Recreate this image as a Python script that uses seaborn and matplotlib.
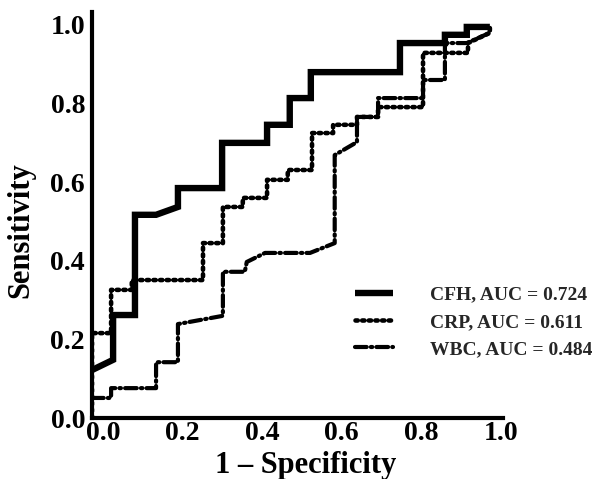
import matplotlib
matplotlib.use("Agg")
import matplotlib.pyplot as plt
import matplotlib.transforms as mtransforms
from matplotlib.lines import Line2D
import numpy as np
import pandas as pd
import seaborn as sns

# ROC curves (1 - specificity, sensitivity)
cfh_fpr = [0.0, 0.053, 0.053, 0.108, 0.108, 0.161, 0.216, 0.216, 0.327, 0.327, 0.44, 0.44,
           0.497, 0.497, 0.55, 0.55, 0.774, 0.774, 0.887, 0.887, 0.942, 0.942, 1.0]
cfh_tpr = [0.122, 0.148, 0.262, 0.262, 0.517, 0.517, 0.537, 0.585, 0.585, 0.70, 0.70, 0.746,
           0.746, 0.814, 0.814, 0.88, 0.88, 0.954, 0.954, 0.975, 0.975, 0.995, 0.995]

crp_fpr = [0.0, 0.0, 0.048, 0.048, 0.10, 0.10, 0.279, 0.279, 0.329, 0.329, 0.379, 0.379, 0.44,
           0.44, 0.492, 0.492, 0.553, 0.553, 0.606, 0.606, 0.666, 0.666, 0.719, 0.719, 0.832,
           0.832, 0.945, 0.945, 1.0, 1.0]
crp_tpr = [0.0, 0.216, 0.216, 0.326, 0.326, 0.351, 0.351, 0.445, 0.445, 0.537, 0.537, 0.560,
           0.560, 0.606, 0.606, 0.631, 0.631, 0.725, 0.725, 0.746, 0.746, 0.766, 0.766, 0.791,
           0.791, 0.929, 0.929, 0.954, 0.98, 1.0]

wbc_fpr = [0.0, 0.048, 0.048, 0.161, 0.161, 0.216, 0.216, 0.329, 0.329, 0.384, 0.389, 0.435,
           0.548, 0.61, 0.61, 0.666, 0.666, 0.719, 0.719, 0.832, 0.832, 0.887, 0.887, 0.942,
           1.0, 1.0]
wbc_tpr = [0.051, 0.051, 0.076, 0.076, 0.142, 0.142, 0.239, 0.26, 0.372, 0.372, 0.397, 0.42,
           0.42, 0.445, 0.669, 0.702, 0.766, 0.766, 0.814, 0.814, 0.86, 0.86, 0.954, 0.954,
           0.98, 1.0]

labels = ["CFH, AUC = 0.724", "CRP, AUC = 0.611", "WBC, AUC = 0.484"]
x_ticks = [0.0, 0.2, 0.4, 0.6, 0.8, 1.0]
y_ticks = [0.0, 0.2, 0.4, 0.6, 0.8, 1.0]

sns.set_theme(style="white")
plt.rcParams['font.family'] = ['Liberation Serif', 'DejaVu Serif']
plt.rcParams['font.weight'] = 'bold'

fig = plt.figure(figsize=(6.13, 4.79), dpi=100)
ax = fig.add_axes([92 / 613, 1 - 418 / 479, (503 - 92) / 613, (418 - 12) / 479])

curves = [(cfh_fpr, cfh_tpr), (crp_fpr, crp_tpr), (wbc_fpr, wbc_tpr)]
styles = [
    dict(lw=4.6, ls='-', solid_joinstyle='miter', solid_capstyle='butt'),
    dict(lw=3.3, ls=(0, (0.5, 0.95)), dash_capstyle='round', dash_joinstyle='round'),
    dict(lw=3.0, ls=(0, (2.8, 1.0, 0.35, 1.0)), dash_capstyle='round', dash_joinstyle='round'),
]

for (fpr, tpr), st in zip(curves, styles):
    df = pd.DataFrame({"fpr": fpr, "tpr": tpr})
    sns.lineplot(data=df, x="fpr", y="tpr", sort=False, estimator=None, color="black",
                 ax=ax, legend=False, **st)

ax.set_xlim(0, 1.033)
ax.set_ylim(0, 1.033)
ax.set_xticks(x_ticks)
ax.set_yticks(y_ticks)
ax.set_xticklabels([f"{t:.1f}" for t in x_ticks])
ax.set_yticklabels([f"{t:.1f}" for t in y_ticks])
ax.tick_params(axis='both', length=0, labelsize=20, colors='black')
ax.tick_params(axis='x', pad=2)
ax.tick_params(axis='y', pad=5)

# tick labels in the reference sit a little right of the data positions
shift = mtransforms.ScaledTranslation(11 / 100, 0, fig.dpi_scale_trans)
for lab in ax.get_xticklabels():
    lab.set_transform(lab.get_transform() + shift)
    lab.set_fontweight('bold')
for lab in ax.get_yticklabels():
    lab.set_fontweight('bold')

ax.set_xlabel("1 – Specificity", fontsize=22, fontweight='bold', color='black')
ax.set_ylabel("Sensitivity", fontsize=22, fontweight='bold', color='black')
ax.xaxis.set_label_coords((306 - 92) / 411, -(465 - 418) / 406, transform=ax.transAxes)
ax.xaxis.label.set_va('center')
ax.yaxis.set_label_coords(-(92 - 21) / 411, (418 - 230) / 406, transform=ax.transAxes)
ax.yaxis.label.set_va('center')

for side in ['top', 'right']:
    ax.spines[side].set_visible(False)
for side in ['left', 'bottom']:
    ax.spines[side].set_linewidth(3)
    ax.spines[side].set_color('black')

handles = [Line2D([], [], color='black', **st) for st in styles]
leg = fig.legend(handles, labels, loc='center left', bbox_to_anchor=(355 / 613, 1 - 322 / 479),
                 bbox_transform=fig.transFigure, frameon=False, borderpad=0, borderaxespad=0,
                 handlelength=1.95, handletextpad=1.9, labelspacing=0.5,
                 prop={'family': 'Liberation Serif', 'weight': 'bold', 'size': 14})

fig.savefig("out.png", dpi=100)
